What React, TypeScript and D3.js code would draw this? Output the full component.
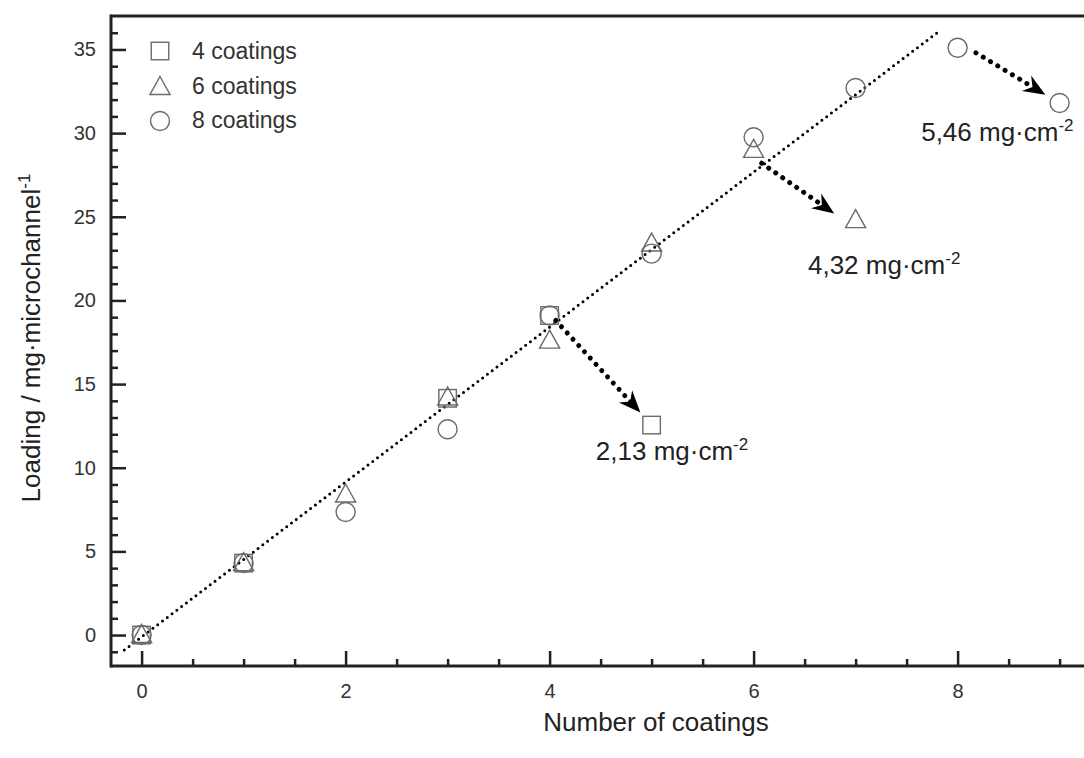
import React, { useEffect, useRef } from 'react'
import * as d3 from 'd3'

// series: number of coatings applied vs loading (mg per microchannel)
const coats4X = [0, 1, 3, 4, 5]
const coats4Y = [0, 4.3, 14.15, 19.1, 12.55]
const coats6X = [0, 1, 2, 3, 4, 5, 6, 7]
const coats6Y = [0, 4.3, 8.4, 14.2, 17.6, 23.4, 29.0, 24.8]
const coats8X = [0, 1, 2, 3, 4, 5, 6, 7, 8, 9]
const coats8Y = [0, 4.3, 7.35, 12.3, 19.1, 22.8, 29.75, 32.7, 35.1, 31.8]

// dotted trend line ends
const trendX = [-0.17, 7.8]
const trendY = [-0.9, 36.0]

// arrows: start -> tip, and their labels
const arrowFromX = [4.06, 6.08, 8.18]
const arrowFromY = [18.8, 28.2, 34.8]
const arrowToX = [4.89, 6.79, 8.86]
const arrowToY = [13.3, 25.2, 32.3]
const arrowLabels = ['2,13', '4,32', '5,46']
const labelX = [5.2, 7.28, 8.39]
const labelY = [10.45, 21.6, 29.5]

const xMajor = [0, 2, 4, 6, 8]
const xMinor = d3.range(0, 9.6, 0.5).filter(v => v % 2 !== 0)
const yMajor = [0, 5, 10, 15, 20, 25, 30, 35]
const yMinor = d3.range(-1, 37, 1).filter(v => v % 5 !== 0)

const legendNames = ['4 coatings', '6 coatings', '8 coatings']

const W = 1084, H = 758
const FONT = '"Liberation Sans", Arial, Helvetica, sans-serif'
const INK = '#222'
const MARK = '#6a6a6a'

const x = d3.scaleLinear().domain([-0.3, 9.3]).range([111, 111 + 9.6 * 102])
const y = d3.scaleLinear().domain([-1.85, 37]).range([666, 16])

const Square = ({ cx, cy }) => (
    <rect x={cx - 8.75} y={cy - 8.75} width={17.5} height={17.5} fill="none" stroke={MARK} strokeWidth={1.4} />
)
const Triangle = ({ cx, cy }) => (
    <path d={`M${cx},${cy - 10.5}L${cx + 10},${cy + 7.5}L${cx - 10},${cy + 7.5}Z`} fill="none" stroke={MARK} strokeWidth={1.4} />
)
const Circle = ({ cx, cy }) => (
    <circle cx={cx} cy={cy} r={9.5} fill="none" stroke={MARK} strokeWidth={1.4} />
)

const Arrow = ({ i }) => {
    const x0 = x(arrowFromX[i]), y0 = y(arrowFromY[i])
    const x1 = x(arrowToX[i]), y1 = y(arrowToY[i])
    const ang = Math.atan2(y1 - y0, x1 - x0) * 180 / Math.PI
    const len = Math.hypot(x1 - x0, y1 - y0)
    return (
        <g transform={`translate(${x0},${y0}) rotate(${ang})`}>
            <line x1={0} y1={0} x2={len - 14} y2={0} stroke="#000" strokeWidth={5}
                strokeDasharray="0 8.5" strokeLinecap="round" />
            <path d={`M${len},0L${len - 22},-9L${len - 15},0L${len - 22},9Z`} fill="#000" />
        </g>
    )
}

export default function App() {
    const xAxisRef = useRef(null)
    const yAxisRef = useRef(null)

    useEffect(() => {
        const gx = d3.select(xAxisRef.current)
        gx.selectAll('*').remove()
        const major = gx.append('g').call(d3.axisBottom(x).tickValues(xMajor).tickSizeInner(-15).tickSizeOuter(0).tickPadding(18).tickFormat(d3.format('d')))
        const minor = gx.append('g').call(d3.axisBottom(x).tickValues(xMinor).tickSizeInner(-7).tickSizeOuter(0).tickFormat(() => ''))
        const gy = d3.select(yAxisRef.current)
        gy.selectAll('*').remove()
        const ymaj = gy.append('g').call(d3.axisLeft(y).tickValues(yMajor).tickSizeInner(-15).tickSizeOuter(0).tickPadding(15).tickFormat(d3.format('d')))
        const ymin = gy.append('g').call(d3.axisLeft(y).tickValues(yMinor).tickSizeInner(-7).tickSizeOuter(0).tickFormat(() => ''))
        ;[major, minor, ymaj, ymin].forEach(g => {
            g.select('.domain').remove()
            g.selectAll('line').attr('stroke', INK).attr('stroke-width', 2.5)
            g.selectAll('text').attr('fill', '#333').style('font-family', FONT).style('font-size', '20px')
        })
    }, [])

    const trend = d3.line()([[x(trendX[0]), y(trendY[0])], [x(trendX[1]), y(trendY[1])]])

    return (
        <svg width={W} height={H} style={{ position: 'fixed', left: 0, top: 0, background: '#fff' }}>
            <rect width={W} height={H} fill="#fff" />
            {/* frame */}
            <line x1={x(-0.3)} x2={W + 10} y1={y(37)} y2={y(37)} stroke={INK} strokeWidth={3} />
            <line x1={x(-0.3)} x2={W + 10} y1={y(-1.85)} y2={y(-1.85)} stroke={INK} strokeWidth={3} />
            <line x1={x(-0.3)} x2={x(-0.3)} y1={y(37) - 1.5} y2={y(-1.85) + 1.5} stroke={INK} strokeWidth={3} />
            <g ref={xAxisRef} transform={`translate(0,${y(-1.85)})`} />
            <g ref={yAxisRef} transform={`translate(${x(-0.3)},0)`} />

            {/* trend */}
            <path d={trend} stroke="#000" strokeWidth={3} strokeDasharray="0 6" strokeLinecap="round" fill="none" />

            {coats8X.map((v, i) => <Circle key={'c' + i} cx={x(v)} cy={y(coats8Y[i])} />)}
            {coats6X.map((v, i) => <Triangle key={'t' + i} cx={x(v)} cy={y(coats6Y[i])} />)}
            {coats4X.map((v, i) => <Square key={'s' + i} cx={x(v)} cy={y(coats4Y[i])} />)}

            {arrowLabels.map((_, i) => <Arrow key={'a' + i} i={i} />)}
            {arrowLabels.map((t, i) => (
                <text key={'l' + i} x={x(labelX[i])} y={y(labelY[i])} textAnchor="middle"
                    style={{ fontFamily: FONT, fontSize: 26 }} fill={INK}>
                    {t} mg·cm<tspan dy={-10} style={{ fontSize: 17 }}>-2</tspan>
                </text>
            ))}

            {/* legend */}
            <g style={{ fontFamily: FONT, fontSize: 23 }} fill="#333">
                <Square cx={160} cy={51} />
                <Triangle cx={160} cy={87} />
                <Circle cx={160} cy={121} />
                {legendNames.map((n, i) => (
                    <text key={n} x={192} y={51 + i * 34.5} dy="0.36em">{n}</text>
                ))}
            </g>

            {/* axis titles */}
            <text x={656} y={731} textAnchor="middle" style={{ fontFamily: FONT, fontSize: 26 }} fill={INK}>
                Number of coatings
            </text>
            <text transform={`translate(40,338) rotate(-90)`} textAnchor="middle"
                style={{ fontFamily: FONT, fontSize: 26 }} fill={INK}>
                Loading / mg·microchannel<tspan dy={-10} style={{ fontSize: 17 }}>-1</tspan>
            </text>
        </svg>
    )
}
